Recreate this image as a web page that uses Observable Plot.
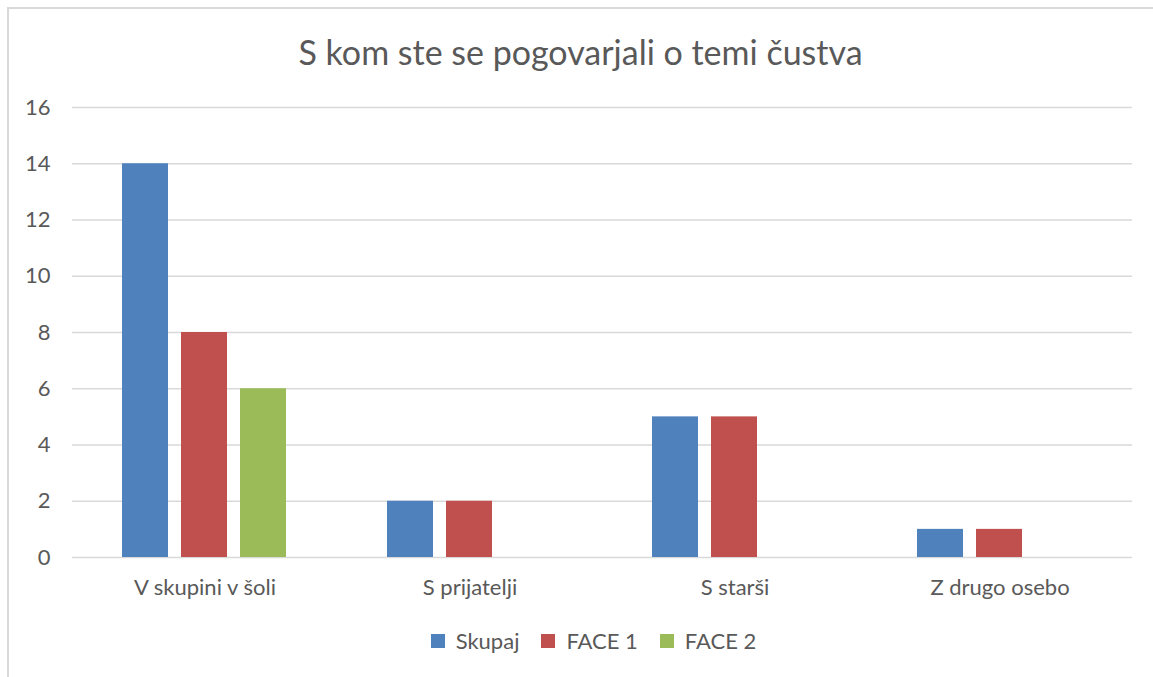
<!DOCTYPE html>
<html>
<head>
<meta charset="utf-8">
<script src="https://cdn.jsdelivr.net/npm/d3@7"></script>
<script src="https://cdn.jsdelivr.net/npm/@observablehq/plot@0.6"></script>
<style>
  html, body { margin: 0; padding: 0; background: #fff; width: 1153px; height: 677px; overflow: hidden; }
  body { position: relative; font-family: Lato, "Open Sans", sans-serif; color: #595959; }
  #frame { position: absolute; left: 7px; top: 7px; width: 1200px; height: 720px; border-left: 2px solid #d9d9d9; border-top: 2px solid #d9d9d9; box-sizing: border-box; }
  #title { position: absolute; left: 8px; width: 1145px; top: 31px; text-align: center; font-size: 34px; line-height: 42px; color: #595959; }
  #chart { position: absolute; left: 0; top: 80px; }
  #legend { position: absolute; left: 32px; width: 1145px; top: 624px; display: flex; justify-content: center; }
</style>
</head>
<body>
<div id="frame"></div>
<div id="title">S kom ste se pogovarjali o temi čustva</div>
<div id="chart"></div>
<div id="legend"></div>
<script>
const categories = ["V skupini v šoli", "S prijatelji", "S starši", "Z drugo osebo"];
const seriesNames = ["Skupaj", "FACE 1", "FACE 2"];
const skupaj = [14, 2, 5, 1];
const face1 = [8, 2, 5, 1];
const face2 = [6, 0, 0, 0];
const yTicks = [0, 2, 4, 6, 8, 10, 12, 14, 16];
const colors = ["#4f81bd", "#c0504d", "#9bbb59"];

const seriesValues = [skupaj, face1, face2];
const data = [];
categories.forEach((c, i) => {
  seriesNames.forEach((s, j) => {
    const v = seriesValues[j][i];
    if (v > 0) data.push({category: c, series: s, value: v});
  });
});

const chart = Plot.plot({
  width: 1153,
  height: 530,
  marginLeft: 72,
  marginRight: 21,
  marginTop: 27,
  marginBottom: 53,
  style: {fontFamily: "Lato, 'Open Sans', sans-serif", fontSize: "22px", color: "#595959", background: "transparent", overflow: "visible"},
  fx: {domain: categories, padding: 0, label: null},
  x: {domain: seriesNames, paddingInner: 0.22, paddingOuter: 0.845, axis: null},
  y: {domain: [0, 16], ticks: yTicks, label: null},
  color: {domain: seriesNames, range: colors},
  marks: [
    Plot.gridY(yTicks, {stroke: "#d9d9d9", strokeOpacity: 1, strokeWidth: 1.3}),
    Plot.axisY(yTicks, {tickSize: 0, tickPadding: 22, label: null, fill: "#595959", fontSize: 22}),
    Plot.axisFx({anchor: "bottom", tickSize: 0, tickPadding: 22, label: null, fill: "#595959", fontSize: 22}),
    Plot.barY(data, {fx: "category", x: "series", y: "value", fill: "series"})
  ]
});
document.getElementById("chart").appendChild(chart);

const legend = Plot.legend({
  color: {domain: seriesNames, range: colors},
  legend: "swatches",
  swatchSize: 14,
  style: {fontFamily: "Lato, 'Open Sans', sans-serif", fontSize: "22px", color: "#595959"}
});
document.getElementById("legend").appendChild(legend);
</script>
</body>
</html>
